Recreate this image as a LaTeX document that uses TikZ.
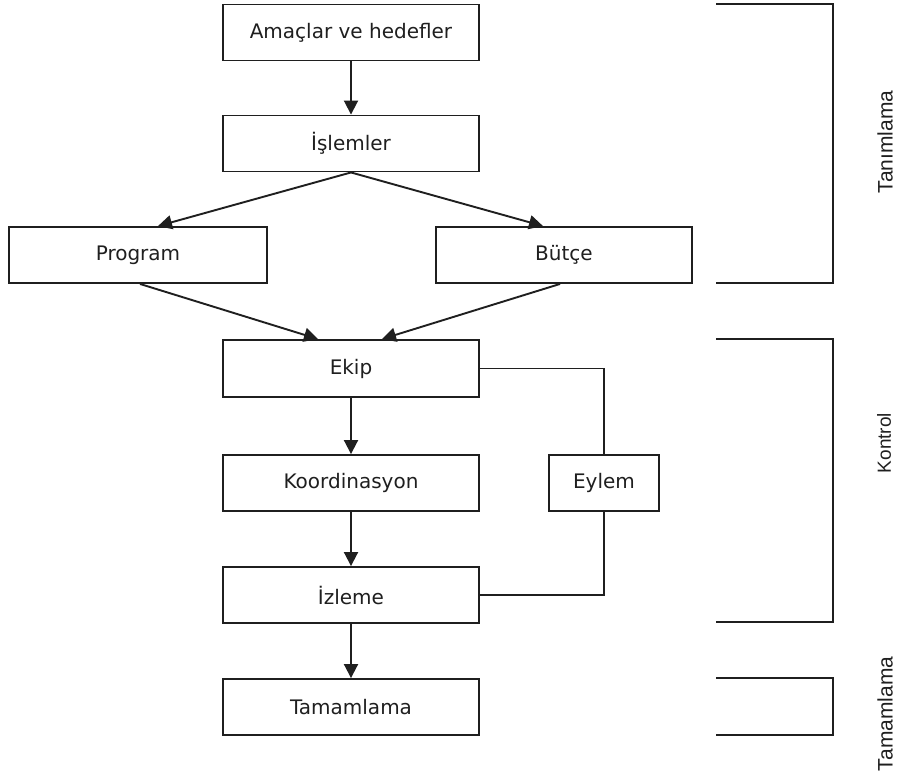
\documentclass[tikz,border=0pt]{standalone}
\usepackage{fontspec}
\usetikzlibrary{arrows.meta,calc}
\newfontfamily\boxfont{DejaVu Sans}
\newfontfamily\sidefont{Liberation Sans}
\definecolor{ink}{gray}{0.12}
\tikzset{
  stage/.style={draw=ink, line width=1.9pt, rectangle, inner sep=0pt,
    minimum width=256pt, minimum height=56pt,
    font=\boxfont\fontsize{20}{24}\selectfont, text=ink},
  conn/.style={draw=ink, line width=1.9pt},
  arr/.style={conn, -{Triangle[length=14pt,width=14pt]}},
  brk/.style={draw=ink, line width=1.9pt, line cap=rect},
  sidelabel/.style={rotate=90, font=\sidefont\fontsize{21}{25}\selectfont, text=ink, inner sep=0pt}
}
\begin{document}
\begin{tikzpicture}[x=1pt,y=-1pt]
\useasboundingbox (0,0) rectangle (899,782);
\fill[white] (0,0) rectangle (899,782);

\node[stage] (A) at (351,32.5) {Amaçlar ve hedefler};
\node[stage] (B) at (351,143.5) {İşlemler};
\node[stage, minimum width=258pt] (P) at (138,255) {Program};
\node[stage] (C) at (564,255) {Bütçe};
\node[stage, minimum height=57pt] (E) at (351,368.5) {Ekip};
\node[stage] (K) at (351,483) {Koordinasyon};
\node[stage] (I) at (351,595) {İzleme};
\node[stage] (T) at (351,707) {Tamamlama};
\node[stage, minimum width=110pt] (Y) at (604,483) {Eylem};

\draw[arr] (A.south) -- (B.north);
\draw[arr] (B.south) -- ([xshift=20pt]P.north);
\draw[arr] (B.south) -- ([xshift=-21pt]C.north);
\draw[arr] ([xshift=2pt]P.south) -- ([xshift=-33pt]E.north);
\draw[arr] ([xshift=-4pt]C.south) -- ([xshift=31pt]E.north);
\draw[arr] (E.south) -- (K.north);
\draw[arr] (K.south) -- (I.north);
\draw[arr] (I.south) -- (T.north);
\draw[conn] (E.east) -| (Y.north);
\draw[conn] (Y.south) |- (I.east);

\coordinate (t1) at (717,4);
\coordinate (t2) at (833,283);
\draw[brk] (t1) -- (t1 -| t2) -- (t2) -- (t2 -| t1);
\coordinate (k1) at (717,339);
\coordinate (k2) at (833,622);
\draw[brk] (k1) -- (k1 -| k2) -- (k2) -- (k2 -| k1);
\coordinate (m1) at (717,678);
\coordinate (m2) at (833,735);
\draw[brk] (m1) -- (m1 -| m2) -- (m2) -- (m2 -| m1);

\node[sidelabel] (L1) at (885,142) {Tanımlama};
\node[sidelabel, font=\sidefont\fontsize{19}{23}\selectfont] (L2) at (884,443) {Kontrol};
\node[sidelabel] (L3) at (885,714) {Tamamlama};
\end{tikzpicture}
\end{document}
